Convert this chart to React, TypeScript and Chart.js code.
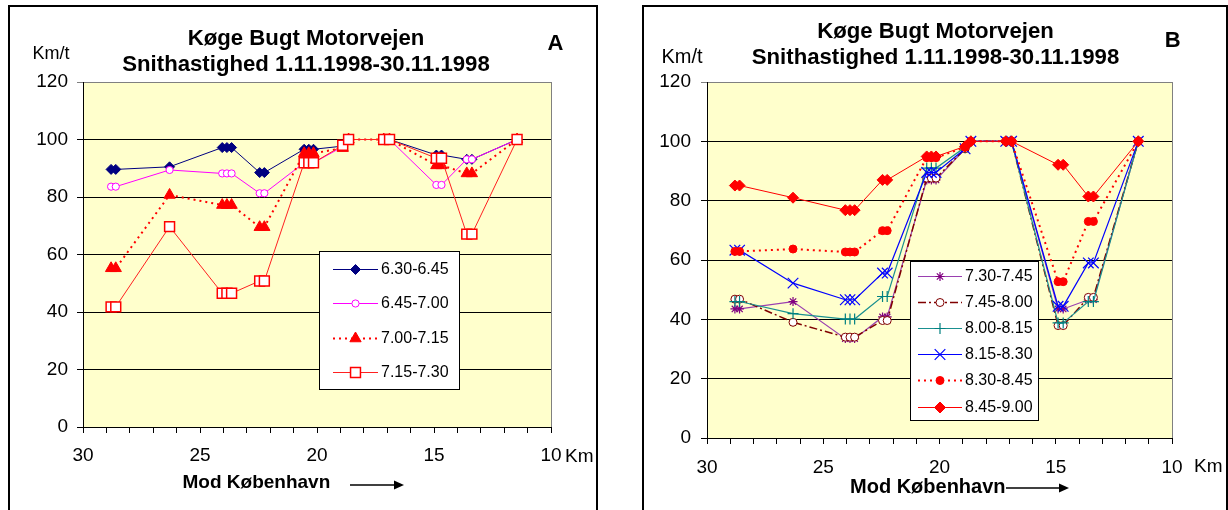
import React, { useEffect, useRef } from 'react';
import { Chart, registerables } from 'chart.js';

Chart.register(...registerables);

// ---------- DATA ----------
const KM_POSITIONS = [28.8, 28.6, 26.3, 24.05, 23.85, 23.65, 22.45, 22.25, 20.55, 20.35, 20.15, 18.9, 18.65, 17.15, 16.9, 14.9, 14.68, 13.6, 13.38, 11.45];

const A_SERIES_NAMES = ['6.30-6.45', '6.45-7.00', '7.00-7.15', '7.15-7.30'];
const A_0630_0645 = [89.6, 89.6, 90.5, 97.2, 97.2, 97.2, 88.5, 88.5, 96.6, 96.6, 96.6, 97.7, 100, 100, 100, 94.6, 94.6, 93.1, 93.1, 100];
const A_0645_0700 = [83.6, 83.6, 89.4, 88.2, 88.2, 88.2, 81.3, 81.3, 91.9, 91.9, 91.9, 97.5, 100, 100, 100, 84.2, 84.2, 93.1, 93.1, 100];
const A_0700_0715 = [55.2, 55.2, 80.7, 77.2, 77.2, 77.2, 69.5, 69.5, 95.2, 95.2, 95.2, 97.0, 100, 100, 100, 91.0, 91.0, 88.2, 88.2, 100];
const A_0715_0730 = [41.8, 41.8, 69.7, 46.5, 46.5, 46.5, 50.8, 50.8, 91.9, 91.9, 91.9, 98.0, 100, 100, 100, 93.5, 93.5, 67.1, 67.1, 100];

const B_SERIES_NAMES = ['7.30-7.45', '7.45-8.00', '8.00-8.15', '8.15-8.30', '8.30-8.45', '8.45-9.00'];
const B_0730_0745 = [43.5, 43.5, 46.0, 33.5, 33.5, 33.5, 40.8, 40.8, 87.0, 87.0, 87.0, 97.5, 100, 100, 100, 43.5, 43.5, 46.6, 46.6, 100];
const B_0745_0800 = [46.8, 46.8, 39.0, 34.0, 34.0, 34.0, 39.6, 39.6, 87.6, 87.6, 87.6, 97.5, 100, 100, 100, 37.9, 37.9, 47.4, 47.4, 100];
const B_0800_0815 = [46.0, 46.0, 41.9, 40.1, 40.1, 40.1, 47.7, 47.7, 91.0, 91.0, 91.0, 98.0, 100, 100, 100, 38.8, 38.8, 46.0, 46.0, 100];
const B_0815_0830 = [63.3, 63.3, 52.2, 46.6, 46.6, 46.6, 55.6, 55.6, 89.5, 89.5, 89.5, 97.5, 100, 100, 100, 44.4, 44.4, 59.0, 59.0, 100];
const B_0830_0845 = [62.9, 62.9, 63.7, 62.7, 62.7, 62.7, 69.9, 69.9, 94.5, 94.5, 94.5, 98.0, 100, 100, 100, 52.7, 52.7, 73.0, 73.0, 100];
const B_0845_0900 = [85.1, 85.1, 81.0, 76.8, 76.8, 76.8, 87.0, 87.0, 94.9, 94.9, 94.9, 98.3, 100, 100, 100, 92.1, 92.1, 81.4, 81.4, 100];

const X_TICK_LABELS = [30, 25, 20, 15, 10];
const Y_TICK_VALUES = [0, 20, 40, 60, 80, 100, 120];
const TITLE_LINES = ['Køge Bugt Motorvejen', 'Snithastighed 1.11.1998-30.11.1998'];
const X_AXIS_TITLE = 'Mod København';
const Y_UNIT = 'Km/t';
const X_UNIT = 'Km';

// ---------- STYLES ----------
type Style = {
  line: string; marker: string; fill: string; point: string;
  radius: number; width: number; dash: number[]; markerWidth: number;
};

const A_STYLES: Style[] = [
  { line: '#000080', marker: '#000080', fill: '#000080', point: 'rectRot', radius: 5, width: 1, dash: [], markerWidth: 1 },
  { line: '#FF00FF', marker: '#FF00FF', fill: '#FFFFFF', point: 'circle', radius: 3.6, width: 1, dash: [], markerWidth: 1 },
  { line: '#FF0000', marker: '#FF0000', fill: '#FF0000', point: 'triangle', radius: 6.5, width: 2, dash: [2, 4], markerWidth: 1 },
  { line: '#FF2020', marker: '#FF0000', fill: '#FFFFFF', point: 'rect', radius: 7, width: 1, dash: [], markerWidth: 1.5 },
];

const B_STYLES: Style[] = [
  { line: '#9A3FB0', marker: '#800080', fill: '#800080', point: 'star', radius: 4.5, width: 1.2, dash: [], markerWidth: 1.2 },
  { line: '#800000', marker: '#800000', fill: '#FFFFFF', point: 'circle', radius: 4, width: 1.5, dash: [8, 3, 2, 3], markerWidth: 1 },
  { line: '#1A9090', marker: '#008080', fill: '#008080', point: 'cross', radius: 5.5, width: 1.2, dash: [], markerWidth: 1.2 },
  { line: '#0000FF', marker: '#0000FF', fill: '#0000FF', point: 'crossRot', radius: 7.5, width: 1.2, dash: [], markerWidth: 1.2 },
  { line: '#FF0000', marker: '#FF0000', fill: '#FF0000', point: 'circle', radius: 4, width: 2, dash: [2, 4], markerWidth: 1 },
  { line: '#FF0000', marker: '#FF0000', fill: '#FF0000', point: 'rectRot', radius: 5.5, width: 1, dash: [], markerWidth: 1 },
];

const FONT = '"Liberation Sans", Arial, sans-serif';
const PLOT_BG = '#FFFFCC';

type PanelCfg = {
  left: number; top: number; w: number; h: number;
  area: { left: number; right: number; top: number; bottom: number };
  names: string[]; series: number[][]; styles: Style[];
  tickFont: number; yTickPad: number; xTickPad: number;
  title: { x: number; y1: number; y2: number; size: number };
  letter: { text: string; x: number; y: number; size: number };
  unitY: { x: number; y: number; size: number };
  unitX: { x: number; y: number; size: number };
  axisTitle: { x: number; y: number; size: number };
  arrow: { x1: number; x2: number; y: number };
  legend: { box: number[]; lx1: number; lx2: number; tx: number; rows: number[]; size: number };
};

const PANEL_A: PanelCfg = {
  left: 10, top: 7, w: 585, h: 503,
  area: { left: 73, right: 541, top: 75, bottom: 420 },
  names: A_SERIES_NAMES,
  series: [A_0630_0645, A_0645_0700, A_0700_0715, A_0715_0730],
  styles: A_STYLES,
  tickFont: 19, yTickPad: 9, xTickPad: 11,
  title: { x: 296, y1: 37.5, y2: 64, size: 22.2 },
  letter: { text: 'A', x: 545.5, y: 43, size: 22 },
  unitY: { x: 22.6, y: 52, size: 18 },
  unitX: { x: 555, y: 454.7, size: 19 },
  axisTitle: { x: 172.5, y: 481, size: 19 },
  arrow: { x1: 340, x2: 394, y: 478 },
  legend: { box: [309, 244, 449, 382], lx1: 323, lx2: 368, tx: 371, rows: [262, 296, 331, 365], size: 16 },
};

const PANEL_B: PanelCfg = {
  left: 645, top: 7, w: 580, h: 503,
  area: { left: 62, right: 527, top: 75, bottom: 431 },
  names: B_SERIES_NAMES,
  series: [B_0730_0745, B_0745_0800, B_0800_0815, B_0815_0830, B_0830_0845, B_0845_0900],
  styles: B_STYLES,
  tickFont: 19, yTickPad: 10, xTickPad: 12,
  title: { x: 290.5, y1: 30.5, y2: 57, size: 22.2 },
  letter: { text: 'B', x: 527.6, y: 39.7, size: 22 },
  unitY: { x: 16.5, y: 55.7, size: 20 },
  unitX: { x: 549, y: 464.7, size: 19 },
  axisTitle: { x: 205, y: 485.7, size: 20 },
  arrow: { x1: 361, x2: 424, y: 481 },
  legend: { box: [265, 254, 393, 413], lx1: 273, lx2: 317, tx: 320, rows: [269, 295, 321, 347, 373, 400], size: 16 },
};

function drawMarker(ctx: CanvasRenderingContext2D, st: Style, x: number, y: number) {
  const r = st.radius;
  ctx.save();
  ctx.setLineDash([]);
  ctx.fillStyle = st.fill;
  ctx.strokeStyle = st.marker;
  ctx.lineWidth = st.markerWidth;
  ctx.beginPath();
  const d = r * Math.SQRT1_2;
  switch (st.point) {
    case 'rectRot':
      ctx.moveTo(x, y - r); ctx.lineTo(x + r, y); ctx.lineTo(x, y + r); ctx.lineTo(x - r, y); ctx.closePath();
      ctx.fill(); ctx.stroke(); break;
    case 'circle':
      ctx.arc(x, y, r, 0, Math.PI * 2); ctx.closePath(); ctx.fill(); ctx.stroke(); break;
    case 'triangle': {
      let a = 0;
      ctx.moveTo(x + Math.sin(a) * r, y - Math.cos(a) * r);
      a += (2 * Math.PI) / 3; ctx.lineTo(x + Math.sin(a) * r, y - Math.cos(a) * r);
      a += (2 * Math.PI) / 3; ctx.lineTo(x + Math.sin(a) * r, y - Math.cos(a) * r);
      ctx.closePath(); ctx.fill(); ctx.stroke(); break;
    }
    case 'rect':
      ctx.rect(x - d, y - d, 2 * d, 2 * d); ctx.fill(); ctx.stroke(); break;
    case 'cross':
      ctx.moveTo(x, y - r); ctx.lineTo(x, y + r); ctx.moveTo(x - r, y); ctx.lineTo(x + r, y); ctx.stroke(); break;
    case 'crossRot':
      ctx.moveTo(x - d, y - d); ctx.lineTo(x + d, y + d); ctx.moveTo(x - d, y + d); ctx.lineTo(x + d, y - d); ctx.stroke(); break;
    case 'star':
      ctx.moveTo(x, y - r); ctx.lineTo(x, y + r); ctx.moveTo(x - r, y); ctx.lineTo(x + r, y);
      ctx.moveTo(x - d, y - d); ctx.lineTo(x + d, y + d); ctx.moveTo(x - d, y + d); ctx.lineTo(x + d, y - d); ctx.stroke(); break;
  }
  ctx.restore();
}

function makeConfig(cfg: PanelCfg): any {
  const n = cfg.series.length;
  const datasets = cfg.series.map((vals, i) => {
    const st = cfg.styles[i];
    return {
      label: cfg.names[i],
      data: KM_POSITIONS.map((x, j) => ({ x, y: vals[j] })),
      borderColor: st.line,
      borderWidth: st.width,
      borderDash: st.dash,
      pointStyle: st.point,
      pointRadius: st.radius,
      pointHoverRadius: st.radius,
      pointBackgroundColor: st.fill,
      pointBorderColor: st.marker,
      pointBorderWidth: st.markerWidth,
      tension: 0,
      fill: false,
      showLine: true,
      order: n - i,
    };
  });

  const bgPlugin = {
    id: 'bg',
    beforeDraw(chart: any) {
      const { ctx, chartArea: a } = chart;
      ctx.save();
      ctx.fillStyle = PLOT_BG;
      ctx.fillRect(a.left, a.top, a.right - a.left, a.bottom - a.top);
      ctx.restore();
    },
    beforeDatasetsDraw(chart: any) {
      const { ctx, chartArea: a } = chart;
      ctx.save();
      ctx.strokeStyle = '#808080';
      ctx.lineWidth = 1;
      ctx.beginPath();
      ctx.moveTo(Math.round(a.right) + 0.5, a.top);
      ctx.lineTo(Math.round(a.right) + 0.5, a.bottom);
      ctx.stroke();
      ctx.restore();
    },
  };

  const textPlugin = {
    id: 'texts',
    afterDraw(chart: any) {
      const ctx: CanvasRenderingContext2D = chart.ctx;
      ctx.save();
      ctx.fillStyle = '#000';
      ctx.textBaseline = 'alphabetic';
      // title
      ctx.textAlign = 'center';
      ctx.font = `bold ${cfg.title.size}px ${FONT}`;
      ctx.fillText(TITLE_LINES[0], cfg.title.x, cfg.title.y1);
      ctx.fillText(TITLE_LINES[1], cfg.title.x, cfg.title.y2);
      // panel letter
      ctx.font = `bold ${cfg.letter.size}px ${FONT}`;
      ctx.fillText(cfg.letter.text, cfg.letter.x, cfg.letter.y);
      // units
      ctx.textAlign = 'left';
      ctx.font = `${cfg.unitY.size}px ${FONT}`;
      ctx.fillText(Y_UNIT, cfg.unitY.x, cfg.unitY.y);
      ctx.font = `${cfg.unitX.size}px ${FONT}`;
      ctx.fillText(X_UNIT, cfg.unitX.x, cfg.unitX.y);
      // axis title
      ctx.font = `bold ${cfg.axisTitle.size}px ${FONT}`;
      ctx.fillText(X_AXIS_TITLE, cfg.axisTitle.x, cfg.axisTitle.y);
      // arrow
      const ar = cfg.arrow;
      ctx.strokeStyle = '#000';
      ctx.lineWidth = 1.3;
      ctx.beginPath();
      ctx.moveTo(ar.x1, ar.y);
      ctx.lineTo(ar.x2 - 6, ar.y);
      ctx.stroke();
      ctx.beginPath();
      ctx.moveTo(ar.x2, ar.y);
      ctx.lineTo(ar.x2 - 10, ar.y - 4.5);
      ctx.lineTo(ar.x2 - 10, ar.y + 4.5);
      ctx.closePath();
      ctx.fill();
      // legend
      const lg = cfg.legend;
      const [bx1, by1, bx2, by2] = lg.box;
      ctx.fillStyle = '#FFFFFF';
      ctx.fillRect(bx1, by1, bx2 - bx1, by2 - by1);
      ctx.strokeStyle = '#000';
      ctx.lineWidth = 1;
      ctx.strokeRect(bx1 + 0.5, by1 + 0.5, bx2 - bx1, by2 - by1);
      ctx.font = `${lg.size}px ${FONT}`;
      ctx.textBaseline = 'middle';
      ctx.textAlign = 'left';
      cfg.names.forEach((name, i) => {
        const st = cfg.styles[i];
        const y = lg.rows[i];
        ctx.save();
        ctx.strokeStyle = st.line;
        ctx.lineWidth = st.width;
        ctx.setLineDash(st.dash);
        ctx.beginPath();
        ctx.moveTo(lg.lx1, Math.round(y) + 0.5);
        ctx.lineTo(lg.lx2, Math.round(y) + 0.5);
        ctx.stroke();
        ctx.restore();
        drawMarker(ctx, st, (lg.lx1 + lg.lx2) / 2, Math.round(y) + 0.5);
        ctx.fillStyle = '#000';
        ctx.fillText(name, lg.tx, y + 1);
      });
      ctx.restore();
    },
  };

  const xTickValues: number[] = [];
  for (let v = 10; v <= 30; v++) xTickValues.push(v);

  return {
    type: 'line',
    data: { datasets },
    options: {
      animation: false,
      responsive: false,
      maintainAspectRatio: false,
      devicePixelRatio: 1,
      layout: { padding: { left: 0, top: cfg.area.top, right: cfg.w - cfg.area.right, bottom: 0 } },
      plugins: { legend: { display: false }, title: { display: false }, tooltip: { enabled: false } },
      events: [],
      scales: {
        x: {
          type: 'linear',
          reverse: true,
          min: 10,
          max: 30,
          afterFit: (s: any) => { s.height = cfg.h - cfg.area.bottom; },
          afterBuildTicks: (s: any) => { s.ticks = xTickValues.map((v) => ({ value: v })); },
          ticks: {
            autoSkip: false,
            maxRotation: 0,
            minRotation: 0,
            padding: cfg.xTickPad,
            color: '#000',
            font: { family: FONT, size: cfg.tickFont },
            callback: (v: any) => (X_TICK_LABELS.includes(Number(v)) ? String(v) : ''),
          },
          grid: { drawOnChartArea: false, drawTicks: true, tickLength: 6, color: '#000', lineWidth: 1 },
          border: { display: true, color: '#000', width: 1 },
        },
        y: {
          type: 'linear',
          min: 0,
          max: 120,
          afterFit: (s: any) => { s.width = cfg.area.left; },
          afterBuildTicks: (s: any) => { s.ticks = Y_TICK_VALUES.map((v) => ({ value: v })); },
          ticks: {
            padding: cfg.yTickPad,
            color: '#000',
            font: { family: FONT, size: cfg.tickFont },
          },
          grid: {
            drawTicks: true,
            tickLength: 6,
            lineWidth: 1,
            color: (c: any) => (c.tick && c.tick.value === 120 ? '#808080' : '#000'),
          },
          border: { display: true, color: '#000', width: 1 },
        },
      },
    },
    plugins: [bgPlugin, textPlugin],
  };
}

function Panel({ cfg }: { cfg: PanelCfg }) {
  const ref = useRef<HTMLCanvasElement>(null);
  useEffect(() => {
    const chart = new Chart(ref.current as HTMLCanvasElement, makeConfig(cfg));
    return () => chart.destroy();
  }, [cfg]);
  return (
    <canvas
      ref={ref}
      width={cfg.w}
      height={cfg.h}
      style={{ position: 'absolute', left: cfg.left, top: cfg.top, width: cfg.w, height: cfg.h }}
    />
  );
}

export default function App() {
  return (
    <div style={{ position: 'absolute', left: 0, top: 0, width: 1228, height: 510, overflow: 'hidden', background: '#fff' }}>
      <div style={{ position: 'absolute', left: 8, top: 5, width: 590, height: 560, border: '2px solid #000', boxSizing: 'border-box' }} />
      <div style={{ position: 'absolute', left: 642, top: 5, width: 586, height: 560, border: '2px solid #000', boxSizing: 'border-box' }} />
      <Panel cfg={PANEL_A} />
      <Panel cfg={PANEL_B} />
    </div>
  );
}
